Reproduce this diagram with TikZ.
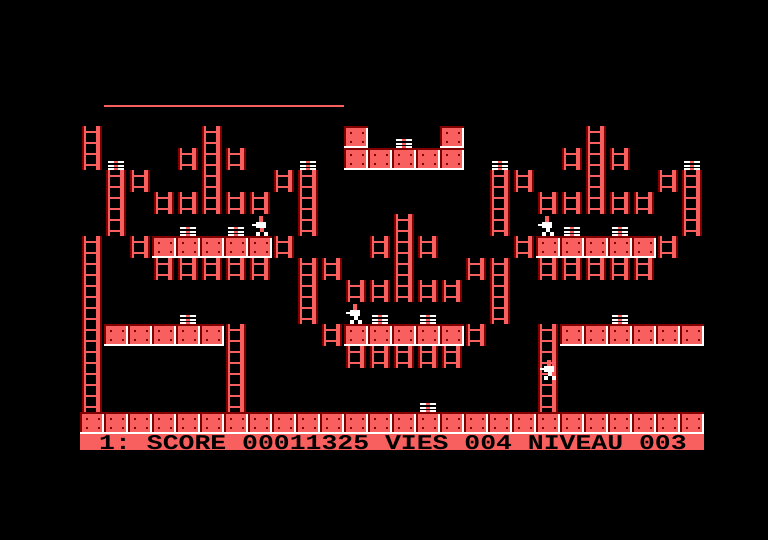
\documentclass[tikz,border=0pt]{standalone}
\usepackage{fontspec}
\newfontfamily\statusfont{Liberation Mono}
\definecolor{brickred}{HTML}{F86060}
\definecolor{darkred}{HTML}{800000}

% one cell of the level grid is 24 x 22 pixels
\newcommand{\ladd}[2]{%
  \begin{scope}[shift={(80+24*#1,126+22*#2)}]
    \fill[darkred] (2,0) rectangle (4,22);
    \fill[brickred] (4,0) rectangle (6,22);
    \fill[brickred] (16,0) rectangle (20,22);
    \fill[darkred] (20,0) rectangle (22,22);
    \fill[brickred] (6,5) rectangle (16,7);
    \fill[brickred] (6,16) rectangle (16,18);
  \end{scope}}
\newcommand{\brk}[2]{%
  \begin{scope}[shift={(80+24*#1,126+22*#2)}]
    \fill[brickred] (0,0) rectangle (24,22);
    \fill[darkred] (0,0) rectangle (24,2);
    \fill[darkred] (0,0) rectangle (2,20);
    \fill[white] (0,20) rectangle (24,22);
    \fill[white] (22,2) rectangle (24,22);
    \foreach \dx/\dy in {6/6,18/6,6/15,18/15}
      \fill[darkred] (\dx,\dy) rectangle ++(2,2);
  \end{scope}}
\newcommand{\gld}[2]{%
  \begin{scope}[shift={(80+24*#1,126+22*#2)}]
    \foreach \dy in {13,17,20}{
      \fill[white] (4,\dy) rectangle (20,\dy+2);
      \fill[brickred] (10,\dy) rectangle (14,\dy+2);
    }
  \end{scope}}
\newcommand{\guy}[2]{%
  \begin{scope}[shift={#1}]
    \fill[brickred] (7,0) rectangle (11,6);
    \fill[white] (4,6) rectangle (14,12);
    \fill[#2] (8,12) rectangle (12,16);
    \fill[white] (4,16) rectangle (8,20);
    \fill[white] (12,16) rectangle (16,20);
    \fill[white] (0,8) rectangle (4,10);
  \end{scope}}

\begin{document}
\begin{tikzpicture}[x=1pt,y=-1pt]
    % black screen
    \fill[black] (0,0) rectangle (768,540);
    \useasboundingbox (0,0) rectangle (768,540);

    % time bar
    \fill[brickred] (104,105) rectangle (344,107);

    % ladders, row by row
    \foreach \r/\cols in {0/{0,5,21},
        1/{0,4,5,6,20,21,22},
        2/{1,2,5,8,9,17,18,21,24,25},
        3/{1,3,4,5,6,7,9,17,19,20,21,22,23,25},
        4/{1,9,13,17,25},
        5/{0,2,8,12,13,14,18,24},
        6/{0,3,4,5,6,7,9,10,13,16,17,19,20,21,22,23},
        7/{0,9,11,12,13,14,15,17},
        8/{0,9,17},
        9/{0,6,10,16,19},
        10/{0,6,11,12,13,14,15,19},
        11/{0,6,19},
        12/{0,6,19}}
      \foreach \c in \cols {\ladd{\c}{\r}}

    % bricks
    \foreach \c in {11,15} {\brk{\c}{0}}
    \foreach \c in {11,...,15} {\brk{\c}{1}}
    \foreach \c in {3,...,7,19,20,21,22,23} {\brk{\c}{5}}
    \foreach \c in {1,...,5,11,12,13,14,15,20,21,22,23,24,25} {\brk{\c}{9}}
    \foreach \c in {0,...,25} {\brk{\c}{13}}

    % gold
    \foreach \r/\c in {1/1,1/9,0/13,1/17,1/25,4/4,4/6,4/20,4/22,
        8/4,8/12,8/14,8/22,12/14} {\gld{\c}{\r}}

    % runners
    \guy{(252,216)}{brickred}
    \guy{(538,216)}{white}
    \guy{(346,304)}{white}
    \guy{(540,360)}{white}

    % status line
    \fill[brickred] (80,434) rectangle (704,450);
    \node[text=black, font={\statusfont\bfseries\fontsize{21}{21}\selectfont},
      xscale=1.26, anchor=center] (status) at (393,443)
      {1:\ SCORE 00011325 VIES 004 NIVEAU 003};
\end{tikzpicture}
\end{document}
